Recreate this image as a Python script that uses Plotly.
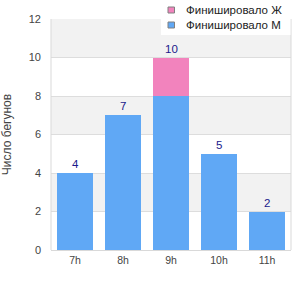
import plotly.graph_objects as go

categories = ["7h", "8h", "9h", "10h", "11h"]
male = [4, 7, 8, 5, 2]
female = [0, 0, 2, 0, 0]
totals = [m + f for m, f in zip(male, female)]
y_ticks = [0, 2, 4, 6, 8, 10, 12]
legend_names = ["Финишировало Ж", "Финишировало М"]

blue = "#60a8f5"
pink = "#f283bd"
font_family = "Liberation Sans"

fig = go.Figure()
fig.add_trace(go.Bar(x=categories, y=male, name="Финишировало М",
                     marker=dict(color=blue, line=dict(width=0)), showlegend=False))
fig.add_trace(go.Bar(x=categories, y=female, name="Финишировало Ж",
                     marker=dict(color=pink, line=dict(width=0)), showlegend=False))

annotations = []
for c, t in zip(categories, totals):
    annotations.append(dict(x=c, y=t, text=str(t), showarrow=False, yanchor="bottom",
                            yshift=1, font=dict(color="#1a1a8c", size=11.5, family=font_family)))

L, R, T, B = 51, 9, 19, 50
PW, PH = 300 - L - R, 300 - T - B

shapes = []
for i in range(len(y_ticks) - 1):
    if i % 2 == 1:
        shapes.append(dict(type="rect", xref="paper", yref="y", x0=0, x1=1,
                           y0=y_ticks[i], y1=y_ticks[i + 1], fillcolor="#f2f2f2",
                           line=dict(width=0), layer="below"))
# plot border (left, right)
shapes.append(dict(type="line", xref="paper", yref="paper", x0=0, x1=0, y0=0, y1=1,
                   line=dict(color="#d9d9d9", width=1)))
shapes.append(dict(type="line", xref="paper", yref="paper", x0=1, x1=1, y0=0, y1=1,
                   line=dict(color="#d9d9d9", width=1)))

# custom legend positioned in pixel terms
def px_x(px):
    return (px - L) / float(PW)

def px_y(py):
    return (300 - B - py) / float(PH)

shapes.append(dict(type="rect", xref="paper", yref="paper", x0=px_x(161), x1=px_x(290.5),
                   y0=px_y(35), y1=px_y(-1), fillcolor="white", line=dict(width=0), layer="above"))
for i, (name, col) in enumerate(zip(legend_names, [pink, blue])):
    cy = 10 + 15 * i
    shapes.append(dict(type="rect", xref="paper", yref="paper", x0=px_x(168), x1=px_x(174.5),
                       y0=px_y(cy + 3), y1=px_y(cy - 3), fillcolor=col,
                       line=dict(color="#808080", width=1), layer="above"))
    annotations.append(dict(xref="paper", yref="paper", x=px_x(184), y=px_y(cy), text=name,
                            showarrow=False, xanchor="left", yanchor="middle",
                            font=dict(size=11.5, color="#222", family=font_family)))

fig.update_layout(
    width=300, height=300,
    margin=dict(l=L, r=R, t=T, b=B),
    barmode="stack", bargap=0.27,
    plot_bgcolor="white", paper_bgcolor="white",
    font=dict(family=font_family, size=11, color="#444"),
    shapes=shapes, annotations=annotations,
    showlegend=False,
    xaxis=dict(showgrid=False, showline=True, linecolor="#d9d9d9", ticks="",
               automargin=False, tickfont=dict(size=10.5, color="#444")),
    yaxis=dict(range=[0, 12], tickvals=y_ticks, showgrid=True, gridcolor="#dddddd",
               zeroline=False, showline=False, ticks="", ticklabelstandoff=9,
               automargin=False, tickfont=dict(size=11, color="#444"),
               title=dict(text="Число бегунов", font=dict(size=12, color="#444"), standoff=22)),
)

fig.write_html("out.html")
